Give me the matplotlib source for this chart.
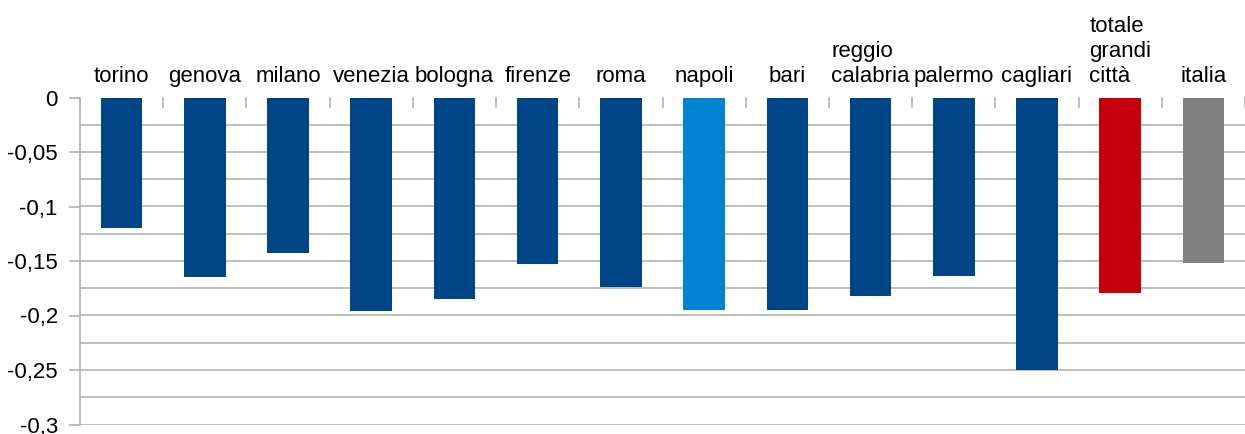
import matplotlib
matplotlib.use("Agg")
import matplotlib.pyplot as plt
import numpy as np

categories = ["torino", "genova", "milano", "venezia", "bologna", "firenze", "roma",
              "napoli", "bari", "reggio\ncalabria", "palermo", "cagliari",
              "totale\ngrandi\ncittà", "italia"]
values = [-0.120, -0.165, -0.143, -0.196, -0.185, -0.153, -0.174,
          -0.195, -0.195, -0.182, -0.164, -0.250, -0.179, -0.152]
colors = ["#004586"] * 7 + ["#0084d1"] + ["#004586"] * 4 + ["#c5000b", "#808080"]
yticks = [0, -0.05, -0.1, -0.15, -0.2, -0.25, -0.3]
ytick_labels = ["0", "-0,05", "-0,1", "-0,15", "-0,2", "-0,25", "-0,3"]

plt.rcParams['font.family'] = ['Liberation Sans', 'DejaVu Sans']

fig = plt.figure(figsize=(12.45, 4.34), dpi=100)
ax = fig.add_axes([80/1245, 1 - 424.5/434, (1245 - 80)/1245, (424.5 - 97.5)/434])

x = np.arange(len(categories))
ax.bar(x, values, width=0.5, color=colors, zorder=3)

ax.set_xlim(-0.5, len(categories) - 0.5)
ax.set_ylim(-0.3, 0)

grid_c = "#b3b3b3"
for g in np.arange(-0.3, 0.001, 0.025):
    ax.axhline(g, color=grid_c, lw=1.2, zorder=1)

ax.set_yticks(yticks)
ax.set_yticklabels(ytick_labels, fontsize=16)
ax.tick_params(axis='y', length=8, width=1.2, color=grid_c, pad=8)

ax.set_xticks([])
for i in range(len(categories) + 1):
    ax.plot([i - 0.5, i - 0.5], [0, -0.009], color=grid_c, lw=1.2, zorder=2, clip_on=False)

for i, c in enumerate(categories):
    ax.text(i, 0.0098, c, ha='center', va='bottom', fontsize=16, multialignment='left',
            linespacing=1.25, transform=ax.transData, clip_on=False)

for s in ['top', 'right', 'bottom']:
    ax.spines[s].set_visible(False)
ax.spines['left'].set_color(grid_c)
ax.spines['left'].set_linewidth(1.2)

fig.savefig("out.png", dpi=100)
